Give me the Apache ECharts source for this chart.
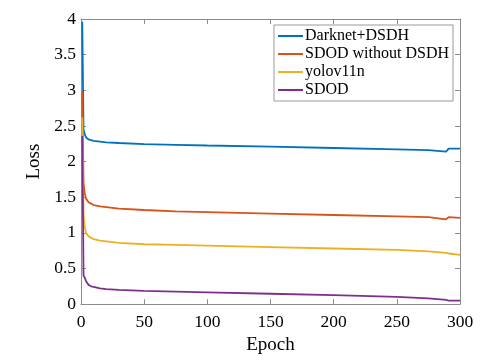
<!DOCTYPE html>
<html>
<head>
<meta charset="utf-8">
<script src="https://cdn.jsdelivr.net/npm/echarts@6/dist/echarts.min.js"></script>
<style>html,body{margin:0;padding:0;background:#fff}#c{width:497px;height:360px}</style>
</head>
<body>
<div id="c"></div>
<script>
var epochs = [1, 2, 3, 4, 6, 8, 10, 15, 20, 30, 50, 75, 100, 150, 200, 250, 275, 289, 291, 300];
var darknetDSDH = [3.96, 2.45, 2.38, 2.34, 2.31, 2.30, 2.29, 2.28, 2.27, 2.26, 2.245, 2.235, 2.225, 2.21, 2.19, 2.17, 2.16, 2.14, 2.18, 2.18];
var sdodNoDSDH = [2.98, 1.70, 1.55, 1.48, 1.43, 1.41, 1.39, 1.37, 1.36, 1.34, 1.32, 1.30, 1.29, 1.27, 1.25, 1.23, 1.22, 1.19, 1.22, 1.21];
var yolov11n = [2.62, 1.25, 1.08, 1.00, 0.95, 0.93, 0.91, 0.89, 0.88, 0.86, 0.84, 0.83, 0.82, 0.80, 0.78, 0.76, 0.74, 0.72, 0.71, 0.69];
var sdod = [2.36, 0.40, 0.37, 0.32, 0.27, 0.25, 0.24, 0.22, 0.21, 0.20, 0.185, 0.175, 0.165, 0.145, 0.125, 0.10, 0.08, 0.06, 0.05, 0.05];
var seriesNames = ['Darknet+DSDH', 'SDOD without DSDH', 'yolov11n', 'SDOD'];
var seriesColors = ['#0072BD', '#D95319', '#EDB120', '#7E2F8E'];
var xTicks = {min: 0, max: 300, interval: 50};
var yTicks = {min: 0, max: 4, interval: 0.5};

function pairs(vals) { return epochs.map(function (e, i) { return [e, vals[i]]; }); }
var allVals = [darknetDSDH, sdodNoDSDH, yolov11n, sdod];

var font = 'Liberation Serif, Times New Roman, serif';
var axisColor = '#8c8c8c';

var chart = echarts.init(document.getElementById('c'));
var baseAxis = {
  axisLine: {show: true, onZero: false, lineStyle: {color: axisColor, width: 1}},
  axisTick: {show: true, inside: true, length: 5, lineStyle: {color: axisColor}},
  splitLine: {show: false}
};
chart.setOption({
  animation: false,
  backgroundColor: '#fff',
  grid: {left: 81, right: 37, top: 19, bottom: 51},
  legend: {
    data: seriesNames.map(function (n) { return {name: n, icon: 'rect'}; }),
    orient: 'vertical',
    right: 44, top: 25,
    itemWidth: 25, itemHeight: 2, itemGap: 2,
    padding: [3, 4, 3, 4],
    borderColor: '#9a9a9a', borderWidth: 1,
    backgroundColor: '#fff',
    textStyle: {fontFamily: font, fontSize: 16, color: '#000', padding: [0, 0, 0, -3]}
  },
  xAxis: [
    Object.assign({}, baseAxis, {
      type: 'value', min: xTicks.min, max: xTicks.max, interval: xTicks.interval, position: 'bottom',
      name: 'Epoch', nameLocation: 'middle', nameGap: 30,
      nameTextStyle: {fontFamily: font, fontSize: 19, color: '#000'},
      axisLabel: {fontFamily: font, fontSize: 17.5, color: '#000', margin: 9}
    }),
    Object.assign({}, baseAxis, {
      type: 'value', min: xTicks.min, max: xTicks.max, interval: xTicks.interval, position: 'top',
      axisLabel: {show: false}
    })
  ],
  yAxis: [
    Object.assign({}, baseAxis, {
      type: 'value', min: yTicks.min, max: yTicks.max, interval: yTicks.interval, position: 'left',
      name: 'Loss', nameLocation: 'middle', nameGap: 22,
      nameTextStyle: {fontFamily: font, fontSize: 19, color: '#000'},
      axisLabel: {fontFamily: font, fontSize: 17.5, color: '#000', margin: 5}
    }),
    Object.assign({}, baseAxis, {
      type: 'value', min: yTicks.min, max: yTicks.max, interval: yTicks.interval, position: 'right',
      axisLabel: {show: false}
    })
  ],
  series: seriesNames.map(function (n, i) {
    return {
      name: n, type: 'line', data: pairs(allVals[i]), showSymbol: false, symbol: 'none',
      lineStyle: {color: seriesColors[i], width: 1.8}, itemStyle: {color: seriesColors[i]},
      xAxisIndex: 0, yAxisIndex: 0
    };
  })
});
</script>
</body>
</html>
